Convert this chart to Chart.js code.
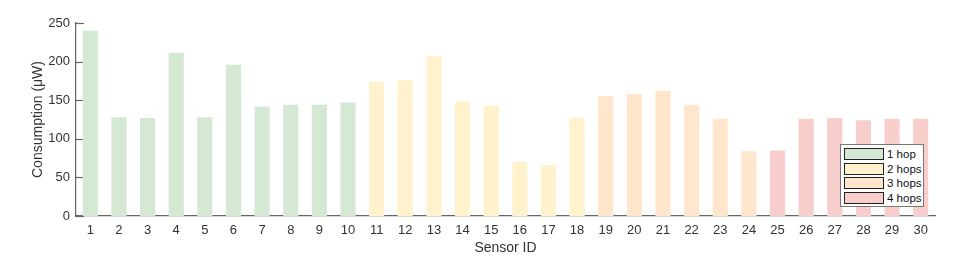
<!DOCTYPE html>
<html><head><meta charset="utf-8">
<script src="https://cdn.jsdelivr.net/npm/chart.js@4"></script>
<style>
html,body{margin:0;padding:0;background:#fff;}
#wrap{position:relative;width:957px;height:267px;}
#legend{position:absolute;left:840px;top:144px;width:82px;height:61px;border:1px solid #777;background:#fff;font-family:"Liberation Sans",Arial,sans-serif;font-size:11.5px;color:#111;box-sizing:content-box;}
.row{position:absolute;left:3px;height:14px;display:flex;align-items:center;}
.sw{width:40px;height:12px;border:1px solid #222;margin-right:3px;box-sizing:border-box;}
</style></head>
<body>
<div id="wrap"><canvas id="c" width="957" height="267"></canvas><div id="legend"></div></div>
<script>
const categories = ["1","2","3","4","5","6","7","8","9","10","11","12","13","14","15","16","17","18","19","20","21","22","23","24","25","26","27","28","29","30"];
const consumption = [240,128,127,211,128,196,142,144,144,147,174,176,207,148,143,70,66,127,155,158,162,144,126,84,85,126,127,124,126,126];
const hops = [1,1,1,1,1,1,1,1,1,1,2,2,2,2,2,2,2,2,3,3,3,3,3,3,4,4,4,4,4,4];
const hopLabels = ["1 hop","2 hops","3 hops","4 hops"];
const hopColors = ["#d5e8d4","#fff2cc","#ffe6cc","#f8cecc"];
const yTicks = [0,50,100,150,200,250];

const font = {family:"'Liberation Sans', Arial, sans-serif", size:13};
const tfont = {family:"'Liberation Sans', Arial, sans-serif", size:14};
const innerTicks = {
  id:'innerTicks',
  beforeDatasetsDraw(chart){
    const y = chart.scales.y, ctx = chart.ctx, a = chart.chartArea;
    ctx.save(); ctx.strokeStyle='#666'; ctx.lineWidth=1.2;
    y.ticks.forEach(t=>{const p=Math.round(y.getPixelForValue(t.value))+0.5;
      ctx.beginPath(); ctx.moveTo(a.left,p); ctx.lineTo(a.left+8,p); ctx.stroke();});
    ctx.restore();
  }
};
new Chart(document.getElementById('c'), {
  type:'bar',
  data:{labels:categories, datasets:[{data:consumption, backgroundColor:hops.map(h=>hopColors[h-1]), borderWidth:0, barPercentage:0.53, categoryPercentage:1}]},
  options:{
    responsive:false, animation:false, events:[],
    layout:{padding:{top:23,right:22,left:30,bottom:10}},
    plugins:{legend:{display:false}, tooltip:{enabled:false}},
    scales:{
      x:{grid:{display:false, drawTicks:false}, border:{color:'#666', width:1.2},
         ticks:{color:'#333', font, padding:7, maxRotation:0, autoSkip:false},
         title:{display:true, text:'Sensor ID', color:'#333', font:tfont, padding:{top:0,bottom:0}},
         afterFit:s=>{s.height=41;}},
      y:{min:0, max:250, afterBuildTicks:s=>{s.ticks=yTicks.map(v=>({value:v}));},
         grid:{display:false, drawTicks:false}, border:{color:'#666', width:1.2},
         ticks:{color:'#333', font, padding:6},
         title:{display:true, text:'Consumption (μW)', color:'#333', font:tfont, padding:{top:0,bottom:0}},
         afterFit:s=>{s.width=46;}}
    }
  },
  plugins:[innerTicks]
});
const lg = document.getElementById('legend');
hopLabels.forEach((t,i)=>{
  const r=document.createElement('div'); r.className='row'; r.style.top=(2+i*14.5)+'px';
  const sw=document.createElement('div'); sw.className='sw'; sw.style.background=hopColors[i];
  const tx=document.createElement('span'); tx.textContent=t;
  r.appendChild(sw); r.appendChild(tx); lg.appendChild(r);
});
</script>
</body></html>
